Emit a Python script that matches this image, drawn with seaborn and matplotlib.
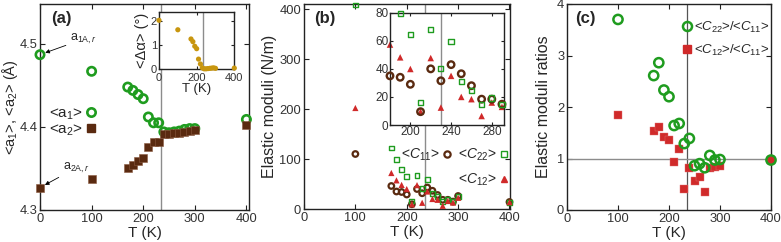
import numpy as np
import pandas as pd
import matplotlib
matplotlib.use('Agg')
import matplotlib.pyplot as plt
import seaborn as sns
from matplotlib.lines import Line2D

# ---------------- data ----------------
T_a = [0, 100, 170, 180, 190, 200, 210, 220, 230, 240, 250, 260, 270, 280, 290, 300, 400]
a1 = [4.487, 4.467, 4.448, 4.444, 4.439, 4.434, 4.412, 4.405, 4.405, 4.394, 4.393, 4.394,
      4.395, 4.397, 4.398, 4.398, 4.409]
a2 = [4.327, 4.337, 4.350, 4.354, 4.359, 4.363, 4.376, 4.382, 4.382, 4.392, 4.392, 4.393,
      4.393, 4.394, 4.395, 4.396, 4.402]
dalpha = [2.02, 1.63, 1.25, 1.14, 0.95, 0.85, 0.42, 0.22, 0.06, 0.02, 0.02, 0.03, 0.04,
          0.05, 0.06, 0.04, 0.05]

T_b = [100, 170, 180, 190, 200, 210, 220, 230, 240, 250, 260, 270, 280, 290, 300, 400]
C11 = [110, 46, 35, 34, 29, 9.5, 40, 31.5, 43, 36.5, 28, 18.4, 18.4, 14.8, 26, 14]
C22 = [408, 122, 99, 79.5, 64.4, 16, 67.8, 40.3, 59.7, 31, 24.6, 14.8, 19.3, 14.8, 25.5, 13.6]
C12 = [202, 72, 57.3, 48.2, 39.9, 9.5, 47.7, 12.4, 35, 20, 18.4, 6.4, 16, 12.9, 22.4, 13.6]

r22 = [3.70, 2.61, 2.86, 2.33, 2.20, 1.64, 1.68, 1.29, 1.39, 0.86, 0.90, 0.82, 1.06, 0.97, 0.98, 0.97]
r12 = [1.84, 1.53, 1.62, 1.41, 1.36, 0.94, 1.19, 0.41, 0.81, 0.57, 0.64, 0.35, 0.82, 0.84, 0.86, 0.97]

T_trans_main = 235
T_trans_inset = 230

# ---------------- style ----------------
sns.set_style('ticks')
plt.rcParams['font.family'] = ['Liberation Sans', 'DejaVu Sans']
plt.rcParams['mathtext.fontset'] = 'custom'
plt.rcParams['mathtext.rm'] = 'Liberation Sans'
plt.rcParams['mathtext.it'] = 'Liberation Sans:italic'
plt.rcParams['mathtext.bf'] = 'Liberation Sans:bold'
plt.rcParams['axes.linewidth'] = 1.0
plt.rcParams['axes.edgecolor'] = '#222222'

GREEN = '#1f9c1f'
BROWN = '#5a2a10'
RED = '#d02a2a'
GOLD = '#c8960f'
GRAY = '#8c8c8c'

W, H = 781, 242
fig = plt.figure(figsize=(W / 100, H / 100), dpi=100)


def frac(l, t, r, b):
    return [l / W, 1 - b / H, (r - l) / W, (b - t) / H]


def style_ax(ax, fs=9.3, length=3.5):
    ax.tick_params(direction='in', top=True, right=True, labelsize=fs, length=length,
                   width=0.8, pad=2, colors='#222222', labelcolor='#333333')


ax_a = fig.add_axes(frac(40, 4, 249, 210))
ax_b = fig.add_axes(frac(304, 4, 510, 209))
ax_c = fig.add_axes(frac(567, 4, 771, 210))

# ---------------- panel (a) ----------------
df_a = pd.DataFrame({'T': T_a, 'a1': a1, 'a2': a2, 'da': dalpha})
ax_a.axvline(T_trans_main, color=GRAY, lw=1.0, zorder=1)
sns.scatterplot(data=df_a, x='T', y='a1', ax=ax_a, marker='o', s=36, facecolor='none',
                edgecolor=GREEN, linewidth=1.9, clip_on=False, zorder=3)
sns.scatterplot(data=df_a, x='T', y='a2', ax=ax_a, marker='s', s=36, color=BROWN,
                edgecolor='#8a5a40', linewidth=0.4, clip_on=False, zorder=4)
ax_a.set_xlim(0, 405)
ax_a.set_ylim(4.3, 4.548)
ax_a.set_xticks([0, 100, 200, 300, 400])
ax_a.set_yticks([4.3, 4.4, 4.5])
ax_a.set_xlabel('T (K)', fontsize=11, labelpad=1)
ax_a.set_ylabel('<a$_1$>, <a$_2$> (Å)', fontsize=10.5, labelpad=0)
style_ax(ax_a)
ax_a.tick_params(axis='y', pad=1.5)
ax_a.text(0.055, 0.965, '(a)', transform=ax_a.transAxes, fontsize=12, fontweight='bold',
          va='top', ha='left')
h1 = Line2D([], [], marker='o', ls='none', ms=6, mfc='none', mec=GREEN, mew=1.9)
h2 = Line2D([], [], marker='s', ls='none', ms=6, color=BROWN)
ax_a.legend([h1, h2], ['<a$_1$>', '<a$_2$>'], markerfirst=False, frameon=False,
            loc='center right', bbox_to_anchor=(0.275, 0.425), fontsize=11,
            handlelength=0.8, handletextpad=0.15, labelspacing=0.05, borderpad=0,
            borderaxespad=0)
ax_a.annotate('a$_{\\mathrm{1A,}r}$', xy=(T_a[0], a1[0]), xytext=(59, 4.506),
              fontsize=9, ha='left', va='center',
              arrowprops=dict(arrowstyle='-|>', lw=0.6, color='k', mutation_scale=6,
                              shrinkA=1, shrinkB=4))
ax_a.annotate('a$_{\\mathrm{2A,}r}$', xy=(T_a[0], a2[0]), xytext=(45, 4.351),
              fontsize=9, ha='left', va='center',
              arrowprops=dict(arrowstyle='-|>', lw=0.6, color='k', mutation_scale=6,
                              shrinkA=1, shrinkB=4))

# inset (a)
ax_ai = fig.add_axes(frac(159, 12.3, 234.3, 69.3))
ax_ai.axvline(T_trans_main, color=GRAY, lw=1.0, zorder=1)
sns.scatterplot(data=df_a, x='T', y='da', ax=ax_ai, s=14, color=GOLD, edgecolor='none',
                clip_on=False, zorder=3)
ax_ai.set_xlim(0, 400)
ax_ai.set_ylim(0, 2.35)
ax_ai.set_xticks([0, 200, 400])
ax_ai.set_yticks([0, 1, 2])
ax_ai.set_xlabel('T (K)', fontsize=9.5, labelpad=0)
ax_ai.set_ylabel('<Δα> (°)', fontsize=10.5, labelpad=1)
style_ax(ax_ai, fs=8, length=2.5)
ax_ai.tick_params(axis='x', pad=2.5)
ax_ai.tick_params(axis='y', pad=1.5)

# ---------------- panel (b) ----------------
df_b = pd.DataFrame({'T': T_b, 'C11': C11, 'C22': C22, 'C12': C12, 'r22': r22, 'r12': r12})
ax_b.axvline(T_trans_main, color=GRAY, lw=1.0, zorder=1)

sns.scatterplot(data=df_b, x='T', y='C11', ax=ax_b, marker='o', s=16, facecolor='none',
                edgecolor=BROWN, linewidth=1.6, clip_on=False, zorder=3)
sns.scatterplot(data=df_b, x='T', y='C22', ax=ax_b, marker='s', s=12, facecolor='none',
                edgecolor=GREEN, linewidth=1.0, clip_on=False, zorder=4)
sns.scatterplot(data=df_b, x='T', y='C12', ax=ax_b, marker='^', s=20, color=RED,
                edgecolor='none', clip_on=False, zorder=5)
ax_b.set_xlim(0, 401)
ax_b.set_ylim(0, 410)
ax_b.set_xticks([0, 100, 200, 300, 400])
ax_b.set_yticks([0, 100, 200, 300, 400])
ax_b.set_xlabel('T (K)', fontsize=11, labelpad=1)
ax_b.set_ylabel('Elastic moduli (N/m)', fontsize=11.5, labelpad=2)
style_ax(ax_b)
ax_b.text(0.05, 0.965, '(b)', transform=ax_b.transAxes, fontsize=12, fontweight='bold',
          va='top', ha='left')
hb11 = Line2D([], [], marker='o', ls='none', ms=4.5, mfc='none', mec=BROWN, mew=1.6)
hb22 = Line2D([], [], marker='s', ls='none', ms=4, mfc='none', mec=GREEN, mew=1.0)
hb12 = Line2D([], [], marker='^', ls='none', ms=5, color=RED)
hbe = Line2D([], [], ls='none')
ax_b.legend([hb11, hbe, hb22, hb12], ['<$C_{11}$>', ' ', '<$C_{22}$>', '<$C_{12}$>'],
            ncol=2, markerfirst=False, frameon=False, loc='upper right',
            bbox_to_anchor=(0.99, 0.305), fontsize=10, handlelength=0.6,
            handletextpad=0.2, labelspacing=0.65, columnspacing=0.5, borderpad=0,
            borderaxespad=0)

# inset (b)
ax_bi = fig.add_axes(frac(390, 12.7, 504, 125))
ax_bi.axvline(T_trans_inset, color=GRAY, lw=1.0, zorder=1)
sub = df_b[(df_b['T'] >= 180) & (df_b['T'] <= 290)]
sns.scatterplot(data=sub[sub['C11'] <= 80], x='T', y='C11', ax=ax_bi, marker='o', s=22,
                facecolor='none', edgecolor=BROWN, linewidth=1.7, clip_on=False, zorder=3)
sns.scatterplot(data=sub[sub['C22'] <= 80], x='T', y='C22', ax=ax_bi, marker='s', s=14,
                facecolor='none', edgecolor=GREEN, linewidth=1.0, clip_on=False, zorder=4)
sns.scatterplot(data=sub[sub['C12'] <= 80], x='T', y='C12', ax=ax_bi, marker='^', s=22,
                color=RED, edgecolor='none', clip_on=False, zorder=2.5)
ax_bi.set_xlim(180, 292)
ax_bi.set_ylim(0, 80)
ax_bi.set_xticks([200, 240, 280])
ax_bi.set_yticks([0, 20, 40, 60, 80])
ax_bi.set_xlabel('')
ax_bi.set_ylabel('')
style_ax(ax_bi, fs=8.5, length=2.5)
ax_bi.tick_params(pad=1)

# ---------------- panel (c) ----------------
ax_c.axvline(T_trans_main, color='#555555', lw=0.9, zorder=1)
ax_c.axhline(1, color=GRAY, lw=1.0, zorder=1)
sns.scatterplot(data=df_b, x='T', y='r12', ax=ax_c, marker='s', s=34, color=RED,
                edgecolor='#e07070', linewidth=0.3, clip_on=False, zorder=3)
sns.scatterplot(data=df_b, x='T', y='r22', ax=ax_c, marker='o', s=44, facecolor='none',
                edgecolor=GREEN, linewidth=1.8, clip_on=False, zorder=4)
ax_c.set_xlim(0, 400)
ax_c.set_ylim(0, 4)
ax_c.set_xticks([0, 100, 200, 300, 400])
ax_c.set_yticks([0, 1, 2, 3, 4])
ax_c.set_xlabel('T (K)', fontsize=11, labelpad=1)
ax_c.set_ylabel('Elastic moduli ratios', fontsize=11.5, labelpad=4)
style_ax(ax_c)
ax_c.text(0.04, 0.965, '(c)', transform=ax_c.transAxes, fontsize=12, fontweight='bold',
          va='top', ha='left')
hc1 = Line2D([], [], marker='o', ls='none', ms=6.5, mfc='none', mec=GREEN, mew=1.8)
hc2 = Line2D([], [], marker='s', ls='none', ms=6, color=RED)
ax_c.legend([hc1, hc2], ['<$C_{22}$>/<$C_{11}$>', '<$C_{12}$>/<$C_{11}$>'],
            frameon=False, loc='upper left', bbox_to_anchor=(0.56, 0.925), fontsize=9.5,
            handlelength=0.8, handletextpad=0.15, labelspacing=0.6, borderpad=0,
            borderaxespad=0)

fig.savefig('out.png', dpi=100)
